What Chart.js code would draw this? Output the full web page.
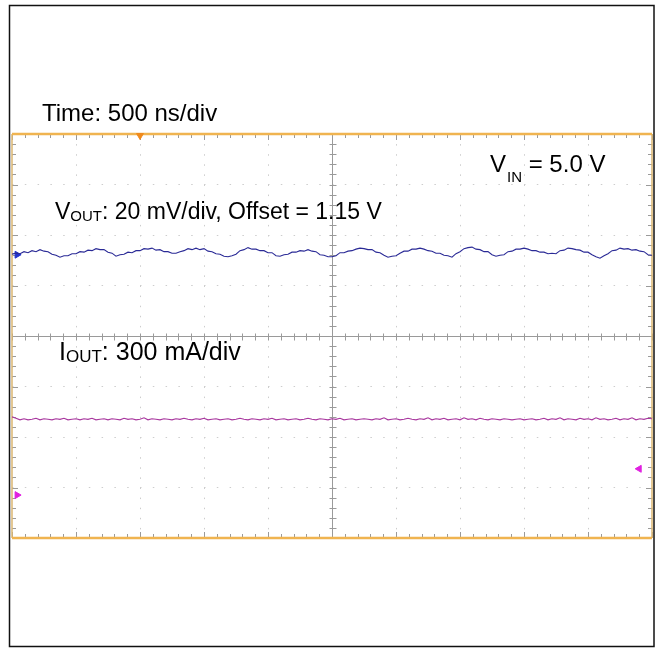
<!DOCTYPE html>
<html>
<head>
<meta charset="UTF-8">
<title>VOUT / IOUT Ripple</title>
<script src="https://cdn.jsdelivr.net/npm/chart.js"></script>
<style>
  body { margin: 0; background: #fff; }
  #wrap { position: relative; width: 657px; height: 648px; }
</style>
</head>
<body>
<div id="wrap"><canvas id="scopeChart"></canvas></div>
<script>
// scope time base: 10 div x 500 ns, one sample every 31.25 ns
const sampleNs = 31.25;
const timeMaxNs = 5000;

// VOUT trace, in screen divisions (20 mV/div)
const vOutDiv = [
  1.62,1.64,1.63,1.67,1.65,1.69,1.67,1.71,1.68,1.67,
  1.62,1.60,1.56,1.59,1.59,1.63,1.63,1.67,1.66,1.70,
  1.69,1.73,1.71,1.71,1.66,1.64,1.58,1.61,1.62,1.66,
  1.65,1.69,1.69,1.73,1.72,1.74,1.70,1.71,1.67,1.67,
  1.64,1.64,1.67,1.69,1.73,1.71,1.74,1.71,1.73,1.68,
  1.67,1.63,1.62,1.58,1.57,1.59,1.62,1.69,1.71,1.75,
  1.72,1.72,1.69,1.69,1.65,1.65,1.59,1.58,1.61,1.62,
  1.66,1.66,1.69,1.68,1.71,1.68,1.67,1.61,1.60,1.57,
  1.57,1.59,1.65,1.65,1.68,1.69,1.72,1.74,1.73,1.71,
  1.71,1.66,1.65,1.60,1.56,1.58,1.59,1.64,1.68,1.68,
  1.72,1.72,1.74,1.72,1.69,1.68,1.64,1.64,1.60,1.59,
  1.56,1.63,1.67,1.73,1.75,1.76,1.72,1.71,1.67,1.67,
  1.61,1.58,1.60,1.61,1.67,1.68,1.72,1.72,1.74,1.72,
  1.69,1.69,1.66,1.66,1.63,1.64,1.63,1.69,1.70,1.74,
  1.73,1.71,1.70,1.66,1.66,1.61,1.57,1.54,1.59,1.63,
  1.69,1.70,1.74,1.72,1.73,1.70,1.71,1.68,1.67,1.61,
  1.60
];

// IOUT trace, in screen divisions (300 mA/div)
const iOutDiv = [
  -1.60,-1.63,-1.66,-1.64,-1.66,-1.65,-1.63,-1.66,-1.64,-1.65,
  -1.66,-1.64,-1.65,-1.63,-1.66,-1.65,-1.64,-1.66,-1.64,-1.65,
  -1.63,-1.66,-1.65,-1.64,-1.66,-1.64,-1.65,-1.66,-1.63,-1.65,
  -1.64,-1.66,-1.65,-1.62,-1.66,-1.64,-1.65,-1.66,-1.64,-1.65,
  -1.66,-1.64,-1.65,-1.63,-1.65,-1.66,-1.64,-1.65,-1.63,-1.66,
  -1.65,-1.64,-1.66,-1.65,-1.64,-1.66,-1.65,-1.63,-1.65,-1.66,
  -1.64,-1.65,-1.66,-1.64,-1.65,-1.63,-1.66,-1.65,-1.64,-1.66,
  -1.65,-1.64,-1.66,-1.65,-1.63,-1.65,-1.66,-1.64,-1.65,-1.66,
  -1.64,-1.65,-1.63,-1.66,-1.65,-1.64,-1.66,-1.65,-1.64,-1.65,
  -1.66,-1.64,-1.65,-1.62,-1.66,-1.65,-1.64,-1.66,-1.65,-1.63,
  -1.65,-1.66,-1.64,-1.65,-1.62,-1.66,-1.64,-1.65,-1.63,-1.66,
  -1.65,-1.64,-1.66,-1.62,-1.65,-1.64,-1.66,-1.63,-1.65,-1.66,
  -1.64,-1.65,-1.66,-1.64,-1.65,-1.66,-1.65,-1.64,-1.66,-1.65,
  -1.64,-1.66,-1.65,-1.63,-1.66,-1.64,-1.65,-1.62,-1.66,-1.64,
  -1.65,-1.66,-1.63,-1.65,-1.64,-1.66,-1.62,-1.65,-1.64,-1.66,
  -1.65,-1.63,-1.66,-1.64,-1.65,-1.62,-1.66,-1.64,-1.65,-1.63,
  -1.64
];

// scope markers
const triggerNs = 1000;
const vOutMarkerDiv = 1.61;
const iOutMarkerLeftDiv = -3.15;
const iOutMarkerRightDiv = -2.63;

const FONT = '"Liberation Sans", Arial, Helvetica, sans-serif';

function toPoints(values) {
  return values.map(function (v, i) { return { x: i * sampleNs, y: v }; });
}

// draw a run of text pieces: [text, size, baselineShift, extraGap]
function drawRun(ctx, x, y, parts) {
  parts.forEach(function (p) {
    ctx.font = p[1] + 'px ' + FONT;
    ctx.fillText(p[0], x, y + p[2]);
    x += ctx.measureText(p[0]).width + (p[3] || 0);
  });
}

const scopeDecor = {
  id: 'scopeDecor',
  beforeDraw(chart) {
    const ctx = chart.ctx;
    ctx.save();
    ctx.strokeStyle = '#111';
    ctx.lineWidth = 1.5;
    ctx.strokeRect(9.5, 5.5, 644.5, 641);
    ctx.restore();
  },
  beforeDatasetsDraw(chart) {
    const ctx = chart.ctx;
    const a = chart.chartArea;
    const xs = chart.scales.x, ys = chart.scales.y;
    const cx = Math.round(xs.getPixelForValue(timeMaxNs / 2)) + 0.5;
    const cy = Math.round(ys.getPixelForValue(0)) + 0.5;
    ctx.save();
    // centre crosshair
    ctx.strokeStyle = '#9a9a9a';
    ctx.lineWidth = 1;
    ctx.beginPath();
    ctx.moveTo(cx, a.top); ctx.lineTo(cx, a.bottom);
    ctx.moveTo(a.left, cy); ctx.lineTo(a.right, cy);
    // minor ticks every 1/5 div
    for (let t = 0; t <= timeMaxNs; t += 100) {
      const px = Math.round(xs.getPixelForValue(t)) + 0.5;
      const major = t % 500 === 0;
      ctx.moveTo(px, cy - 3); ctx.lineTo(px, cy + 4);
      ctx.moveTo(px, a.top); ctx.lineTo(px, a.top + (major ? 6 : 4));
      ctx.moveTo(px, a.bottom); ctx.lineTo(px, a.bottom - (major ? 6 : 4));
    }
    for (let k = -20; k <= 20; k++) {
      const py = Math.round(ys.getPixelForValue(k / 5)) + 0.5;
      const major = k % 5 === 0;
      ctx.moveTo(cx - 3, py); ctx.lineTo(cx + 4, py);
      ctx.moveTo(a.left, py); ctx.lineTo(a.left + (major ? 6 : 4), py);
      ctx.moveTo(a.right, py); ctx.lineTo(a.right - (major ? 6 : 4), py);
    }
    ctx.stroke();
    // frame of the graticule
    ctx.strokeStyle = '#dcb672';
    ctx.lineWidth = 1.5;
    ctx.beginPath();
    ctx.moveTo(a.left, a.top); ctx.lineTo(a.left, a.bottom);
    ctx.moveTo(a.right, a.top); ctx.lineTo(a.right, a.bottom);
    ctx.stroke();
    ctx.strokeStyle = '#f0b450';
    ctx.lineWidth = 2.5;
    ctx.beginPath();
    ctx.moveTo(a.left, a.top); ctx.lineTo(a.right, a.top);
    ctx.moveTo(a.left, a.bottom); ctx.lineTo(a.right, a.bottom);
    ctx.stroke();
    ctx.restore();
  },
  afterDraw(chart) {
    const ctx = chart.ctx;
    ctx.save();
    ctx.fillStyle = '#000';
    ctx.textBaseline = 'alphabetic';
    drawRun(ctx, 42, 121, [['Time: 500 ns/div', 24, 0]]);
    drawRun(ctx, 490, 172, [['V', 24, 0, 1], ['IN', 15, 10, 0], [' = 5.0 V', 24, 0]]);
    drawRun(ctx, 55, 219, [['V', 23, 0], ['OUT', 15, 2], [': 20 mV/div, Offset = 1.15 V', 23, 0]]);
    drawRun(ctx, 59, 360, [['I', 25, 0], ['OUT', 17, 2], [': 300 mA/div', 25, 0]]);
    ctx.restore();
  }
};

const ctx = document.getElementById('scopeChart').getContext('2d');
const scopeChart = new Chart(ctx, {
  type: 'line',
  data: {
    datasets: [
      {
        label: 'VOUT',
        data: toPoints(vOutDiv),
        borderColor: '#2a2a96',
        borderWidth: 1.1,
        pointRadius: 0,
        tension: 0
      },
      {
        label: 'IOUT',
        data: toPoints(iOutDiv),
        borderColor: '#a8379e',
        borderWidth: 1.1,
        pointRadius: 0,
        tension: 0
      },
      {
        label: 'trigger',
        type: 'scatter',
        data: [{ x: triggerNs, y: 3.97 }],
        pointStyle: 'triangle',
        rotation: 180,
        pointRadius: 4,
        backgroundColor: '#f08a1c',
        borderColor: '#f08a1c',
        clip: false
      },
      {
        label: 'ch markers',
        type: 'scatter',
        data: [{ x: 40, y: vOutMarkerDiv }],
        pointStyle: 'triangle',
        rotation: 90,
        pointRadius: 4,
        backgroundColor: '#2233cc',
        borderColor: '#2233cc',
        clip: false
      },
      {
        label: 'iout markers',
        type: 'scatter',
        data: [{ x: 40, y: iOutMarkerLeftDiv }],
        pointStyle: 'triangle',
        rotation: 90,
        pointRadius: 4,
        backgroundColor: '#e020e0',
        borderColor: '#e020e0',
        clip: false
      },
      {
        label: 'iout ref',
        type: 'scatter',
        data: [{ x: timeMaxNs - 100, y: iOutMarkerRightDiv }],
        pointStyle: 'triangle',
        rotation: 270,
        pointRadius: 4,
        backgroundColor: '#e020e0',
        borderColor: '#e020e0',
        clip: false
      }
    ]
  },
  options: {
    responsive: true,
    maintainAspectRatio: false,
    animation: false,
    layout: { padding: { left: 12, right: 5, top: 134, bottom: 110 } },
    plugins: {
      legend: { display: false },
      tooltip: { enabled: false },
      title: { display: false }
    },
    scales: {
      x: {
        type: 'linear',
        min: 0,
        max: timeMaxNs,
        ticks: { display: false, stepSize: 500 },
        grid: { color: '#cdcdcd', lineWidth: 1, drawTicks: false },
        border: { display: false, dash: [1.5, 8.6] }
      },
      y: {
        min: -4,
        max: 4,
        ticks: { display: false, stepSize: 1 },
        grid: { color: '#cdcdcd', lineWidth: 1, drawTicks: false },
        border: { display: false, dash: [1.5, 11.3] }
      }
    }
  },
  plugins: [scopeDecor]
});
</script>
</body>
</html>
